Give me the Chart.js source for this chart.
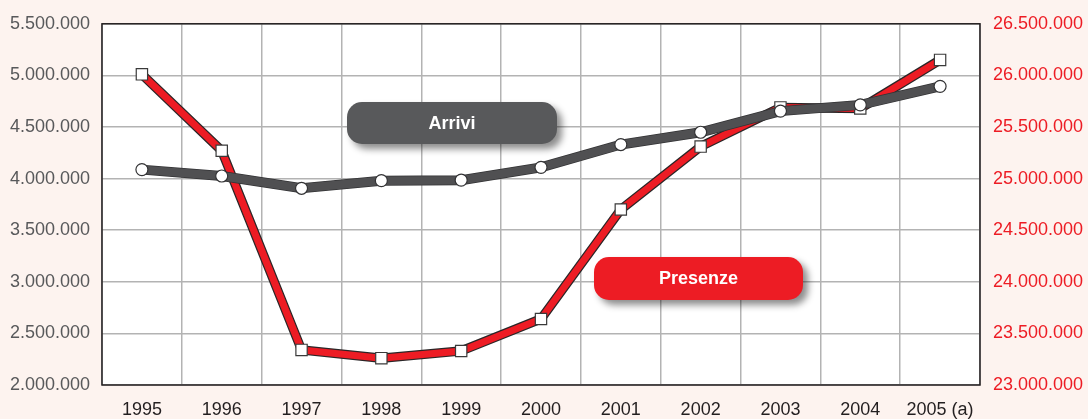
<!DOCTYPE html>
<html>
<head>
<meta charset="utf-8">
<script src="https://cdn.jsdelivr.net/npm/chart.js@4/dist/chart.umd.min.js"></script>
<style>
  html, body { margin: 0; padding: 0; background: #fdf3ef; }
  #wrap { width: 1088px; height: 419px; position: relative; }
</style>
</head>
<body>
<div id="wrap"><canvas id="chart"></canvas></div>
<script>
// Anni
const years = ['1995', '1996', '1997', '1998', '1999', '2000', '2001', '2002', '2003', '2004', '2005 (a)'];
// Arrivi (asse sinistro)
const arrivi = [4087000, 4025000, 3906000, 3980000, 3985000, 4109000, 4330000, 4449000, 4654000, 4714000, 4894000];
// Presenze (asse destro)
const presenze = [26010000, 25270000, 23340000, 23260000, 23330000, 23640000, 24700000, 25310000, 25690000, 25680000, 26150000];

const RED = '#ed1c24';
const GREY = '#58595b';
const OUTLINE = '#2b2627';

// numero con punto come separatore delle migliaia
const fmt = v => String(Math.round(v)).replace(/\B(?=(\d{3})+(?!\d))/g, '.');

// sfondo, bordo area grafico e le due etichette arrotondate
const decor = {
  id: 'decor',
  beforeDraw(chart) {
    const { ctx, chartArea: a } = chart;
    ctx.save();
    ctx.fillStyle = '#fdf3ef';
    ctx.fillRect(0, 0, chart.width, chart.height);
    ctx.fillStyle = '#ffffff';
    ctx.fillRect(a.left, a.top, a.right - a.left, a.bottom - a.top);
    ctx.restore();
  },
  afterDatasetsDraw(chart) {
    const { ctx, chartArea: a } = chart;
    ctx.save();
    ctx.strokeStyle = '#231f20';
    ctx.lineWidth = 1.5;
    ctx.strokeRect(a.left, a.top, a.right - a.left, a.bottom - a.top);

    const tag = (x, y, w, h, color, text) => {
      ctx.save();
      ctx.shadowColor = 'rgba(0,0,0,0.45)';
      ctx.shadowBlur = 7;
      ctx.shadowOffsetX = 5;
      ctx.shadowOffsetY = 5;
      ctx.fillStyle = color;
      ctx.beginPath();
      ctx.roundRect(x, y, w, h, 15);
      ctx.fill();
      ctx.restore();
      ctx.fillStyle = '#ffffff';
      ctx.font = 'bold 18px "Liberation Sans", Arial, sans-serif';
      ctx.textAlign = 'center';
      ctx.textBaseline = 'middle';
      ctx.fillText(text, x + w / 2, y + h / 2 + 1);
    };
    tag(347, 102, 210, 42, GREY, 'Arrivi');
    tag(594, 257, 209, 43, RED, 'Presenze');
    ctx.restore();
  }
};

new Chart(document.getElementById('chart'), {
  type: 'line',
  data: {
    labels: years,
    datasets: [
      {
        label: 'Presenze bordo',
        data: presenze,
        yAxisID: 'y1',
        borderColor: OUTLINE,
        borderWidth: 9.5,
        pointRadius: 0,
        tension: 0,
        order: 4
      },
      {
        label: 'Presenze',
        data: presenze,
        yAxisID: 'y1',
        borderColor: RED,
        borderWidth: 7,
        pointStyle: 'rect',
        pointRadius: 8,
        pointBackgroundColor: '#ffffff',
        pointBorderColor: '#3a3a3a',
        pointBorderWidth: 1.2,
        tension: 0,
        order: 3
      },
      {
        label: 'Arrivi bordo',
        data: arrivi,
        yAxisID: 'y',
        borderColor: '#333335',
        borderWidth: 10,
        pointRadius: 0,
        tension: 0,
        order: 2
      },
      {
        label: 'Arrivi',
        data: arrivi,
        yAxisID: 'y',
        borderColor: '#505052',
        borderWidth: 8.5,
        pointStyle: 'circle',
        pointRadius: 6,
        pointBackgroundColor: '#ffffff',
        pointBorderColor: '#333335',
        pointBorderWidth: 1.2,
        tension: 0,
        order: 1
      }
    ]
  },
  options: {
    responsive: true,
    maintainAspectRatio: false,
    animation: false,
    layout: { padding: { top: 22 } },
    plugins: {
      legend: { display: false },
      tooltip: { enabled: false }
    },
    scales: {
      x: {
        offset: true,
        grid: { offset: true, color: '#b3b3b3', lineWidth: 1.5, drawTicks: false },
        border: { display: false },
        ticks: {
          color: '#231f20',
          padding: 14,
          maxRotation: 0,
          font: { family: '"Liberation Sans", Arial, sans-serif', size: 18 }
        },
        afterFit(scale) { scale.height = 34; }
      },
      y: {
        position: 'left',
        min: 2000000,
        max: 5500000,
        grid: { color: '#b3b3b3', lineWidth: 1.5, drawTicks: false },
        border: { display: false },
        ticks: {
          stepSize: 500000,
          color: '#58595b',
          padding: 12,
          font: { family: '"Liberation Sans", Arial, sans-serif', size: 18 },
          callback: v => fmt(v)
        },
        afterFit(scale) { scale.width = 102; }
      },
      y1: {
        position: 'right',
        min: 23000000,
        max: 26500000,
        grid: { display: false, drawTicks: false },
        border: { display: false },
        ticks: {
          stepSize: 500000,
          color: RED,
          padding: 13,
          font: { family: '"Liberation Sans", Arial, sans-serif', size: 18 },
          callback: v => fmt(v)
        },
        afterFit(scale) { scale.width = 108; }
      }
    }
  },
  plugins: [decor]
});
</script>
</body>
</html>
